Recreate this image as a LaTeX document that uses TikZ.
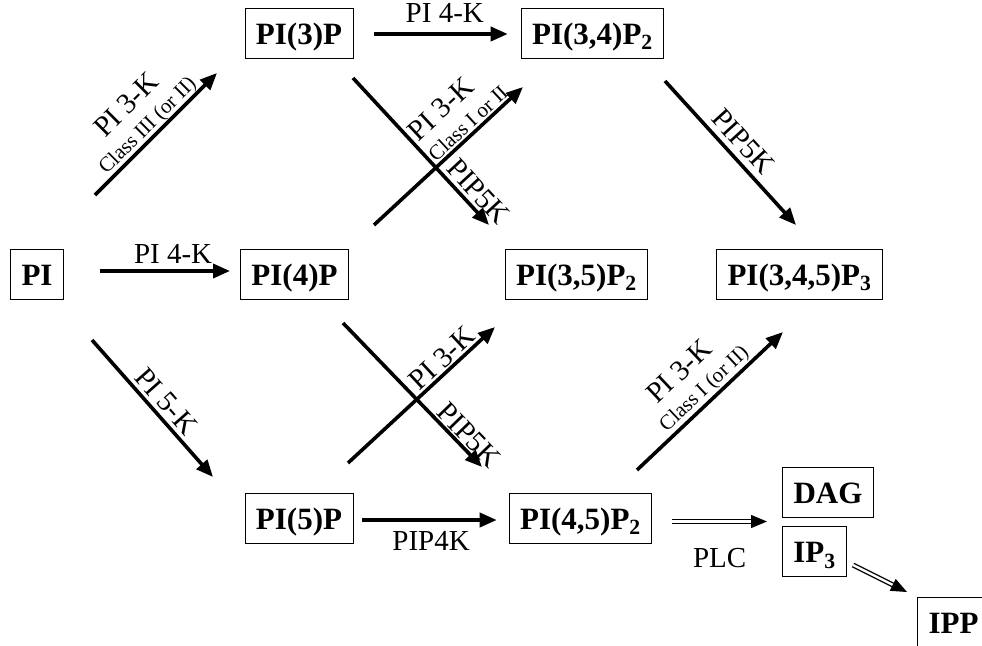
\documentclass[tikz,border=0pt]{standalone}
\usepackage{fontspec}
\setmainfont{Liberation Serif}
\usetikzlibrary{arrows.meta,calc}

% text set along a line from #1 to #2, #3 to its upper side, at position #4
\newcommand\alongtext[6]{%
  \path ($(#1)!#3!90:(#2)$) -- ($(#2)!#3!-90:(#1)$) node[#5, sloped, pos=#4] {#6};}

\begin{document}
\begin{tikzpicture}[x=1pt,y=-1pt,
  box/.style={draw, line width=0.9pt, font=\fontsize{31}{31}\selectfont\bfseries,
    inner xsep=11pt, inner ysep=0pt, minimum height=50pt,
    text height=22pt, text depth=0pt},
  lbl/.style={font=\fontsize{29}{29}\selectfont, inner sep=0pt},
  sml/.style={font=\fontsize{21}{21}\selectfont, inner sep=0pt},
  flow/.style={line width=3.6pt, -{Triangle[length=17pt,width=14pt]}},
  dbl/.style={double, double distance=2.4pt, line width=1.3pt,
    -{Triangle[length=16pt,width=13pt]}},
]
\useasboundingbox (0,0) rectangle (982,645);
\clip (0,0) rectangle (982,645);

% compounds
\node[box] (PI)    at (37,274)    {PI};
\node[box] (PI4P)  at (294.5,274) {PI(4)P};
\node[box] (PI35)  at (576.5,274) {PI(3,5)P\textsubscript{2}};
\node[box] (PI345) at (799.5,274) {PI(3,4,5)P\textsubscript{3}};
\node[box] (PI3P)  at (299,33)    {PI(3)P};
\node[box] (PI34)  at (592.5,33)  {PI(3,4)P\textsubscript{2}};
\node[box] (PI5P)  at (299,518)   {PI(5)P};
\node[box] (PI45)  at (580.5,518) {PI(4,5)P\textsubscript{2}};
\node[box] (DAG)   at (828,492.5) {DAG};
\node[box] (IP3)   at (814.5,551.5) {IP\textsubscript{3}};
\node[box] (IPP)   at (953.5,622) {IPP};

% ends of the diagonal arrows
\coordinate (a1) at (95,195);   \coordinate (a2) at (217,73);
\coordinate (b1) at (92,340);   \coordinate (b2) at (213,477);
\coordinate (c1) at (353,78);   \coordinate (c2) at (489,225);
\coordinate (d1) at (374,225);  \coordinate (d2) at (523,87);
\coordinate (e1) at (665,81);   \coordinate (e2) at (796,225);
\coordinate (f1) at (343,323);  \coordinate (f2) at (482,467);
\coordinate (g1) at (348,463);  \coordinate (g2) at (495,327);
\coordinate (h1) at (637,470);  \coordinate (h2) at (783,332);
\coordinate (plc) at (767,521.5);
\coordinate (ip1) at (853,565); \coordinate (ip2) at (907,592);

% horizontal steps
\draw[flow, shorten <=21pt, shorten >=13pt] ([yshift=-1pt]PI3P.east) -- ([yshift=-1pt]PI34.west)
  node[lbl, pos=0.546, above=10pt] {PI 4-K};
\draw[flow, shorten <=36pt, shorten >=10pt] ([yshift=3pt]PI.east) -- ([yshift=3pt]PI4P.west)
  node[lbl, pos=0.62, above=6pt] {PI 4-K};
\draw[flow, shorten <=9pt, shorten >=12pt] ([yshift=-2pt]PI5P.east) -- ([yshift=-2pt]PI45.west)
  node[lbl, midway, below=10pt] {PIP4K};

% diagonal steps
\draw[flow] (a1) -- (a2);
\alongtext{a1}{a2}{42pt}{0.5}{lbl}{PI 3-K}
\alongtext{a1}{a2}{11pt}{0.5}{sml}{Class III (or II)}
\draw[flow] (b1) -- (b2);
\alongtext{b1}{b2}{15pt}{0.52}{lbl}{PI 5-K}
\draw[flow] (c1) -- (c2);
\alongtext{c1}{c2}{15pt}{0.84}{lbl}{PIP5K}
\draw[flow] (d1) -- (d2);
\alongtext{d1}{d2}{40pt}{0.63}{lbl}{PI 3-K}
\alongtext{d1}{d2}{11pt}{0.68}{sml}{Class I or II}
\draw[flow] (e1) -- (e2);
\alongtext{e1}{e2}{17pt}{0.5}{lbl}{PIP5K}
\draw[flow] (f1) -- (f2);
\alongtext{f1}{f2}{13pt}{0.84}{lbl}{PIP5K}
\draw[flow] (g1) -- (g2);
\alongtext{g1}{g2}{13pt}{0.70}{lbl}{PI 3-K}
\draw[flow] (h1) -- (h2);
\alongtext{h1}{h2}{43pt}{0.49}{lbl}{PI 3-K}
\alongtext{h1}{h2}{12pt}{0.52}{sml}{Class I (or II)}

% phospholipase C products
\draw[dbl] ([xshift=20pt,yshift=-3.5pt]PI45.east) -- (plc)
  node[lbl, midway, below=26pt] {PLC};
\draw[dbl] (ip1) -- (ip2);
\end{tikzpicture}
\end{document}
